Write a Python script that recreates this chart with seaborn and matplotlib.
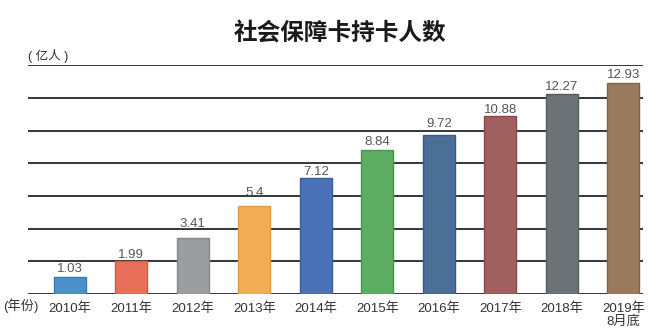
import matplotlib
matplotlib.use("Agg")
import matplotlib.pyplot as plt
import seaborn as sns
import pandas as pd

years = ["2010年", "2011年", "2012年", "2013年", "2014年",
         "2015年", "2016年", "2017年", "2018年", "2019年\n8月底"]
holders = [1.03, 1.99, 3.41, 5.4, 7.12, 8.84, 9.72, 10.88, 12.27, 12.93]
value_labels = ["1.03", "1.99", "3.41", "5.4", "7.12", "8.84", "9.72", "10.88", "12.27", "12.93"]
bar_colors = ["#4d8fc9", "#e8705a", "#9b9d9f", "#f2ad55", "#4b72b9",
              "#5dad64", "#4b6f97", "#a0605f", "#6c7377", "#9a7a5d"]
edge_colors = ["#3a78b0", "#d9553f", "#85878a", "#e49b3f", "#3a5ea1",
               "#47964f", "#3a5a7e", "#874848", "#555c60", "#7f6246"]
y_ticks = [0, 2, 4, 6, 8, 10, 12, 14]

# gap (in points) between each bar top and its value label, chosen so the
# labels sit clear of the grid lines
label_gap_pt = [3.4, 2.7, 7.9, 7.2, 2.0, 3.1, 6.0, 2.5, 2.4, 3.4]

sns.set_theme(style="white")
latin_cjk = ["Liberation Sans", "Noto Sans CJK SC", "DejaVu Sans"]
plt.rcParams["font.family"] = latin_cjk

df = pd.DataFrame({"year": years, "holders": holders})

fig = plt.figure(figsize=(6.7, 3.35), dpi=100)
ax = fig.add_axes([28 / 670, 1 - 294 / 335, 615 / 670, (294 - 65.3) / 335])

for y in y_ticks:
    ax.axhline(y, color="#363636", lw=1.4, zorder=1)

sns.barplot(data=df, x="year", y="holders", hue="year", palette=bar_colors,
            legend=False, width=0.52, ax=ax, zorder=3, saturation=1)
for patch, ec in zip(ax.patches, edge_colors):
    patch.set_edgecolor(ec)
    patch.set_linewidth(1.0)

for i, (v, lab, gap) in enumerate(zip(holders, value_labels, label_gap_pt)):
    ax.annotate(lab, xy=(i, v), xytext=(0, gap), textcoords="offset points",
                ha="center", va="baseline", fontsize=9.5,
                color="#555555", zorder=4)

ax.set_xlim(-0.68, 9.32)
ax.set_ylim(0, 14)
ax.set_yticks([])
ax.set_xlabel("")
ax.set_ylabel("")
for s in ax.spines.values():
    s.set_visible(False)
ax.tick_params(axis="x", length=0, pad=6, labelsize=9.5, labelcolor="#333333")
for t in ax.get_xticklabels():
    t.set_verticalalignment("top")
    t.set_linespacing(1.0)
    t.set_horizontalalignment("center")

fig.text(3 / 670, 1 - 306 / 335, "(年份)", fontsize=9.5, color="#333333",
         ha="left", va="center")
fig.text(28 / 670, 1 - 56 / 335, "( 亿人 )", fontsize=9, color="#333333",
         ha="left", va="center")
fig.text(340 / 670, 1 - 33 / 335, "社会保障卡持卡人数", fontsize=17,
         fontweight="heavy", color="#1a1a1a", ha="center", va="center",
         family=["Noto Sans CJK SC"])

fig.savefig("out.png", dpi=100, facecolor="white")
